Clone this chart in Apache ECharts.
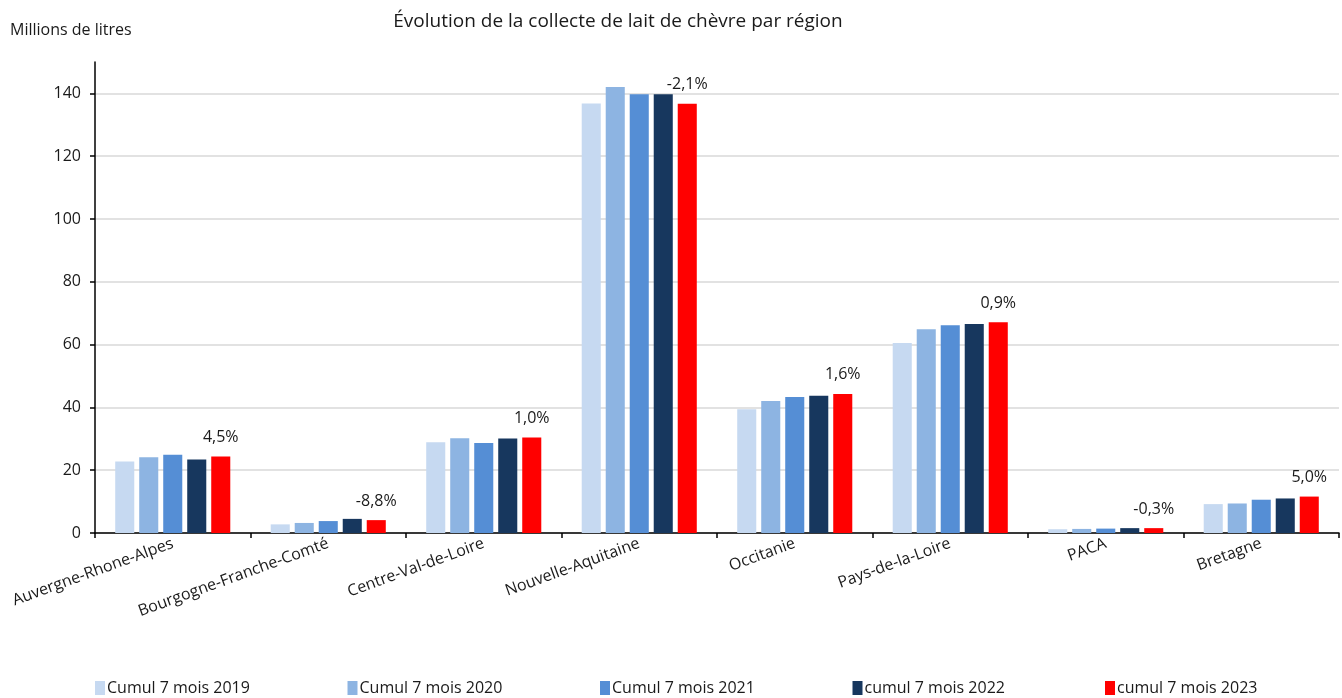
<!DOCTYPE html>
<html lang="fr">
<head>
    <meta charset="UTF-8">
    <title>Collecte de lait de chèvre par région</title>
    <script src="https://cdn.jsdelivr.net/npm/echarts@6/dist/echarts.min.js"></script>
</head>
<body style="margin:0">
    <div id="main" style="width: 1342px; height: 698px;"></div>
    <script>
        const regions = ['Auvergne-Rhone-Alpes', 'Bourgogne-Franche-Comté', 'Centre-Val-de-Loire',
            'Nouvelle-Aquitaine', 'Occitanie', 'Pays-de-la-Loire', 'PACA', 'Bretagne']
        const seriesNames = ['Cumul 7 mois 2019', 'Cumul 7 mois 2020', 'Cumul 7 mois 2021',
            'cumul 7 mois 2022', 'cumul 7 mois 2023']
        const cumul2019 = [22.8, 2.75, 28.9, 136.8, 39.4, 60.5, 1.2, 9.2]
        const cumul2020 = [24.1, 3.2, 30.2, 142.0, 42.0, 64.9, 1.3, 9.4]
        const cumul2021 = [24.9, 3.8, 28.7, 139.7, 43.3, 66.2, 1.4, 10.6]
        const cumul2022 = [23.4, 4.5, 30.1, 139.7, 43.7, 66.6, 1.55, 11.0]
        const cumul2023 = [24.4, 4.1, 30.4, 136.7, 44.3, 67.1, 1.55, 11.6]
        const evolution = ['4,5%', '-8,8%', '1,0%', '-2,1%', '1,6%', '0,9%', '-0,3%', '5,0%']
        const colors = ['#C6D9F1', '#8DB4E2', '#558ED5', '#17375E', '#FF0000']

        const font = 'Open Sans'
        const txt = '#1a1a1a'
        const chart = echarts.init(document.getElementById('main'))
        const values = [cumul2019, cumul2020, cumul2021, cumul2022, cumul2023]

        const series = values.map((data, i) => {
            const s = {
                name: seriesNames[i],
                type: 'bar',
                data: data,
                barGap: '26%',
                barCategoryGap: '26%',
                itemStyle: { color: colors[i] }
            }
            // étiquette d'évolution sur la dernière année
            if (i === 4) {
                s.label = {
                    show: true,
                    position: 'top',
                    distance: 11,
                    color: txt,
                    fontFamily: font,
                    fontSize: 16,
                    formatter: p => evolution[p.dataIndex]
                }
            }
            return s
        })

        // une légende par série pour garder l'espacement régulier
        const legends = seriesNames.map((name, i) => ({
            left: 95 + i * 252.5,
            top: 680,
            padding: 0,
            itemWidth: 10,
            itemHeight: 14,
            icon: 'rect',
            itemGap: 0,
            textStyle: { fontFamily: font, fontSize: 16, color: txt, padding: [0, 0, 0, -3] },
            data: [name]
        }))

        const option = {
            animation: false,
            title: [
                {
                    text: 'Évolution de la collecte de lait de chèvre par région',
                    left: 613,
                    textAlign: 'center',
                    top: 7,
                    textStyle: { fontFamily: font, fontWeight: 'normal', fontSize: 19, color: txt }
                },
                {
                    text: 'Millions de litres',
                    left: 5,
                    top: 17,
                    textStyle: { fontFamily: font, fontWeight: 'normal', fontSize: 16, color: txt }
                }
            ],
            legend: legends,
            grid: { left: 95, right: 3, top: 62, bottom: 165 },
            xAxis: {
                type: 'category',
                data: regions,
                axisLine: { lineStyle: { color: '#000', width: 1.5 } },
                axisTick: { show: true, length: 5, lineStyle: { color: '#000', width: 1.5 } },
                axisLabel: {
                    rotate: 20,
                    margin: 10,
                    interval: 0,
                    fontFamily: font,
                    fontSize: 16,
                    color: txt
                }
            },
            yAxis: {
                type: 'value',
                min: 0,
                max: 150,
                interval: 20,
                axisLine: { show: true, lineStyle: { color: '#000', width: 1.5 } },
                axisTick: { show: true, length: 5, lineStyle: { color: '#000', width: 1.5 } },
                axisLabel: {
                    fontFamily: font,
                    fontSize: 16,
                    color: txt,
                    margin: 14,
                    showMaxLabel: false
                },
                splitLine: { showMaxLine: false, lineStyle: { color: '#D9D9D9', width: 1.5 } }
            },
            series: series
        }

        chart.setOption(option)
    </script>
</body>
</html>
